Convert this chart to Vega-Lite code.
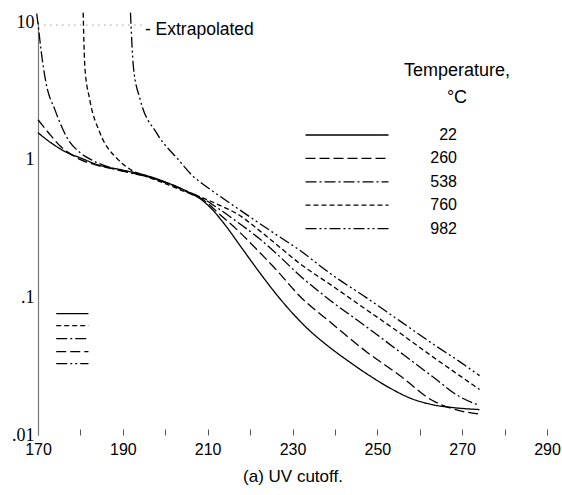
{
  "$schema": "https://vega.github.io/schema/vega-lite/v6.json",
  "width": 509,
  "height": 413,
  "autosize": {"type": "none"},
  "padding": {"left": 38, "top": 22, "right": 15, "bottom": 60},
  "background": "white",
  "config": {
    "view": {"stroke": null},
    "font": "Liberation Sans, Arial, sans-serif"
  },
  "datasets": {
    "curves": [
      {"wl": 170, "abs": 1.57, "temp": "22"},
      {"wl": 173, "abs": 1.33, "temp": "22"},
      {"wl": 176.5, "abs": 1.14, "temp": "22"},
      {"wl": 180, "abs": 1.03, "temp": "22"},
      {"wl": 184, "abs": 0.92, "temp": "22"},
      {"wl": 190, "abs": 0.84, "temp": "22"},
      {"wl": 196, "abs": 0.76, "temp": "22"},
      {"wl": 202, "abs": 0.65, "temp": "22"},
      {"wl": 206, "abs": 0.57, "temp": "22"},
      {"wl": 208.6, "abs": 0.51, "temp": "22"},
      {"wl": 211, "abs": 0.437, "temp": "22"},
      {"wl": 214, "abs": 0.339, "temp": "22"},
      {"wl": 218, "abs": 0.229, "temp": "22"},
      {"wl": 222, "abs": 0.155, "temp": "22"},
      {"wl": 226, "abs": 0.107, "temp": "22"},
      {"wl": 230, "abs": 0.0767, "temp": "22"},
      {"wl": 234, "abs": 0.0575, "temp": "22"},
      {"wl": 238, "abs": 0.0452, "temp": "22"},
      {"wl": 243, "abs": 0.0347, "temp": "22"},
      {"wl": 248, "abs": 0.0272, "temp": "22"},
      {"wl": 253, "abs": 0.0219, "temp": "22"},
      {"wl": 258, "abs": 0.0184, "temp": "22"},
      {"wl": 263, "abs": 0.0166, "temp": "22"},
      {"wl": 268, "abs": 0.0158, "temp": "22"},
      {"wl": 274.1, "abs": 0.0153, "temp": "22"},

      {"wl": 170, "abs": 1.95, "temp": "260"},
      {"wl": 173, "abs": 1.5, "temp": "260"},
      {"wl": 175.4, "abs": 1.24, "temp": "260"},
      {"wl": 177.1, "abs": 1.13, "temp": "260"},
      {"wl": 180, "abs": 1.0, "temp": "260"},
      {"wl": 184, "abs": 0.91, "temp": "260"},
      {"wl": 190, "abs": 0.83, "temp": "260"},
      {"wl": 196, "abs": 0.75, "temp": "260"},
      {"wl": 202, "abs": 0.645, "temp": "260"},
      {"wl": 206, "abs": 0.565, "temp": "260"},
      {"wl": 209, "abs": 0.51, "temp": "260"},
      {"wl": 212.6, "abs": 0.407, "temp": "260"},
      {"wl": 217.3, "abs": 0.302, "temp": "260"},
      {"wl": 222, "abs": 0.216, "temp": "260"},
      {"wl": 226.8, "abs": 0.151, "temp": "260"},
      {"wl": 231.5, "abs": 0.1035, "temp": "260"},
      {"wl": 239.3, "abs": 0.0646, "temp": "260"},
      {"wl": 247.4, "abs": 0.0403, "temp": "260"},
      {"wl": 255.2, "abs": 0.0272, "temp": "260"},
      {"wl": 263, "abs": 0.0178, "temp": "260"},
      {"wl": 268.7, "abs": 0.0152, "temp": "260"},
      {"wl": 274.1, "abs": 0.0142, "temp": "260"},

      {"wl": 169.7, "abs": 11.5, "temp": "538"},
      {"wl": 170.2, "abs": 8.6, "temp": "538"},
      {"wl": 170.7, "abs": 6.3, "temp": "538"},
      {"wl": 171.9, "abs": 3.6, "temp": "538"},
      {"wl": 174, "abs": 2.3, "temp": "538"},
      {"wl": 177.1, "abs": 1.4, "temp": "538"},
      {"wl": 180, "abs": 1.12, "temp": "538"},
      {"wl": 182.5, "abs": 1.0, "temp": "538"},
      {"wl": 187.3, "abs": 0.87, "temp": "538"},
      {"wl": 192, "abs": 0.8, "temp": "538"},
      {"wl": 196, "abs": 0.75, "temp": "538"},
      {"wl": 202, "abs": 0.65, "temp": "538"},
      {"wl": 206, "abs": 0.575, "temp": "538"},
      {"wl": 209, "abs": 0.52, "temp": "538"},
      {"wl": 212.6, "abs": 0.44, "temp": "538"},
      {"wl": 217.3, "abs": 0.347, "temp": "538"},
      {"wl": 222, "abs": 0.27, "temp": "538"},
      {"wl": 226.8, "abs": 0.2, "temp": "538"},
      {"wl": 231.5, "abs": 0.146, "temp": "538"},
      {"wl": 239.3, "abs": 0.093, "temp": "538"},
      {"wl": 247.4, "abs": 0.0612, "temp": "538"},
      {"wl": 255.2, "abs": 0.0403, "temp": "538"},
      {"wl": 263, "abs": 0.0266, "temp": "538"},
      {"wl": 269.4, "abs": 0.019, "temp": "538"},
      {"wl": 274.1, "abs": 0.0164, "temp": "538"},

      {"wl": 180.65, "abs": 11.7, "temp": "760"},
      {"wl": 181.05, "abs": 4.7, "temp": "760"},
      {"wl": 182.2, "abs": 2.73, "temp": "760"},
      {"wl": 184.6, "abs": 1.57, "temp": "760"},
      {"wl": 188.9, "abs": 1.0, "temp": "760"},
      {"wl": 192, "abs": 0.84, "temp": "760"},
      {"wl": 195.3, "abs": 0.76, "temp": "760"},
      {"wl": 200, "abs": 0.67, "temp": "760"},
      {"wl": 205, "abs": 0.58, "temp": "760"},
      {"wl": 209, "abs": 0.525, "temp": "760"},
      {"wl": 212.6, "abs": 0.47, "temp": "760"},
      {"wl": 217.3, "abs": 0.398, "temp": "760"},
      {"wl": 222, "abs": 0.309, "temp": "760"},
      {"wl": 226.8, "abs": 0.234, "temp": "760"},
      {"wl": 231.5, "abs": 0.178, "temp": "760"},
      {"wl": 239.3, "abs": 0.1216, "temp": "760"},
      {"wl": 247.4, "abs": 0.0814, "temp": "760"},
      {"wl": 255.2, "abs": 0.0554, "temp": "760"},
      {"wl": 263, "abs": 0.0371, "temp": "760"},
      {"wl": 269.4, "abs": 0.027, "temp": "760"},
      {"wl": 274.1, "abs": 0.0214, "temp": "760"},

      {"wl": 191.8, "abs": 11.7, "temp": "982"},
      {"wl": 192.5, "abs": 4.7, "temp": "982"},
      {"wl": 194.1, "abs": 2.73, "temp": "982"},
      {"wl": 197.9, "abs": 1.57, "temp": "982"},
      {"wl": 203.1, "abs": 1.0, "temp": "982"},
      {"wl": 206.7, "abs": 0.75, "temp": "982"},
      {"wl": 209, "abs": 0.66, "temp": "982"},
      {"wl": 212.6, "abs": 0.55, "temp": "982"},
      {"wl": 217.3, "abs": 0.437, "temp": "982"},
      {"wl": 225.1, "abs": 0.30, "temp": "982"},
      {"wl": 231.5, "abs": 0.222, "temp": "982"},
      {"wl": 239.3, "abs": 0.146, "temp": "982"},
      {"wl": 247.4, "abs": 0.0995, "temp": "982"},
      {"wl": 255.2, "abs": 0.0677, "temp": "982"},
      {"wl": 263, "abs": 0.0461, "temp": "982"},
      {"wl": 269.4, "abs": 0.0341, "temp": "982"},
      {"wl": 274.1, "abs": 0.027, "temp": "982"}
    ],
    "key": [
      {"x1": 174.3, "x2": 181.9, "abs": 0.0762, "temp": "22"},
      {"x1": 174.3, "x2": 181.9, "abs": 0.0623, "temp": "760"},
      {"x1": 174.3, "x2": 181.9, "abs": 0.0501, "temp": "538"},
      {"x1": 174.3, "x2": 181.9, "abs": 0.0403, "temp": "260"},
      {"x1": 174.3, "x2": 181.9, "abs": 0.033, "temp": "982"}
    ],
    "note": [
      {"x1": 171.5, "x2": 195.2, "abs": 9.5, "label": "- Extrapolated"}
    ]
  },
  "layer": [
    {
      "data": {"name": "curves"},
      "mark": {"type": "line", "color": "black", "strokeWidth": 1.3, "interpolate": "monotone"},
      "encoding": {
        "x": {
          "field": "wl", "type": "quantitative",
          "scale": {"domain": [170, 290], "nice": false, "zero": false},
          "axis": {
            "values": [170, 175, 180, 185, 190, 195, 200, 205, 210, 215, 220, 225, 230, 235, 240, 245, 250, 255, 260, 265, 270, 275, 280, 285, 290],
            "labelExpr": "(datum.value - 170) % 20 == 0 ? datum.label : ''",
            "labelFlush": false, "labelOverlap": false,
            "domain": false, "grid": false,
            "tickSize": -6, "tickColor": "#555", "tickWidth": 1,
            "labelPadding": 12, "labelFontSize": 16, "labelColor": "black",
            "title": "(a) UV cutoff.", "titleFontSize": 17, "titleFontWeight": "normal",
            "titleColor": "black", "titlePadding": 11
          }
        },
        "y": {
          "field": "abs", "type": "quantitative",
          "scale": {"type": "log", "domain": [0.01, 10], "nice": false},
          "axis": {
            "values": [0.01, 0.1, 1, 10],
            "labelExpr": "datum.value >= 9 ? '10' : datum.value >= 0.9 ? '1' : datum.value >= 0.09 ? '.1' : '.01'",
            "ticks": false, "grid": false,
            "domain": true, "domainColor": "#777", "domainWidth": 1.2,
            "labelFont": "Liberation Serif, serif", "labelFontSize": 18,
            "labelColor": "black", "labelPadding": 4, "title": null
          }
        },
        "strokeDash": {
          "field": "temp", "type": "nominal",
          "scale": {
            "domain": ["22", "260", "538", "760", "982"],
            "range": [[1, 0], [10, 4], [11, 3, 2, 3], [5, 3], [11, 3, 2, 3, 2, 3]]
          },
          "legend": {
            "orient": "none", "legendX": 301, "legendY": 40,
            "title": ["Temperature,", "°C"],
            "titleFontSize": 18, "titleFontWeight": "normal", "titleColor": "black",
            "titleAnchor": "end", "titleAlign": "center", "titleLineHeight": 27,
            "titlePadding": 20,
            "symbolType": "M -8.3 0 H 8.3", "symbolSize": 100,
            "symbolStrokeWidth": 1.3, "symbolStrokeColor": "black",
            "labelAlign": "right", "labelOffset": 102,
            "labelFontSize": 16, "labelColor": "black",
            "rowPadding": 7.4, "padding": 0
          }
        }
      }
    },
    {
      "data": {"name": "key"},
      "mark": {"type": "rule", "color": "black", "strokeWidth": 1.4},
      "encoding": {
        "x": {"field": "x1", "type": "quantitative"},
        "x2": {"field": "x2"},
        "y": {"field": "abs", "type": "quantitative"},
        "strokeDash": {"field": "temp", "type": "nominal"}
      }
    },
    {
      "data": {"name": "note"},
      "mark": {"type": "rule", "color": "#666", "strokeWidth": 1, "strokeDash": [1, 5]},
      "encoding": {
        "x": {"field": "x1", "type": "quantitative"},
        "x2": {"field": "x2"},
        "y": {"field": "abs", "type": "quantitative"}
      }
    },
    {
      "data": {"name": "note"},
      "mark": {"type": "text", "align": "left", "baseline": "middle", "fontSize": 17.5, "color": "black", "dy": 5},
      "encoding": {
        "x": {"field": "x2", "type": "quantitative"},
        "y": {"field": "abs", "type": "quantitative"},
        "text": {"field": "label"}
      }
    }
  ]
}
